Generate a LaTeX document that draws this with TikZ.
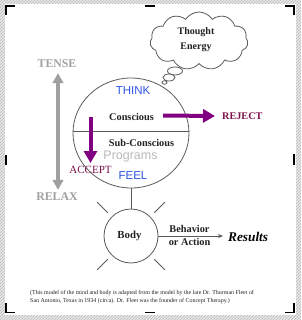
\documentclass[tikz,border=0pt]{standalone}
\usepackage{fontspec}
\setmainfont{Liberation Serif}
\newfontfamily\arialfam{Liberation Sans}
\usetikzlibrary{shapes.geometric,shapes.symbols,arrows.meta,patterns,calc}
\definecolor{purp}{HTML}{800080}
\definecolor{plum}{HTML}{7A1048}
\definecolor{thinkblue}{HTML}{2F55E8}
\definecolor{tensegray}{HTML}{A0A0A0}
\definecolor{linegray}{HTML}{5A5A5A}
\definecolor{textdark}{HTML}{222222}
\begin{document}
\begin{tikzpicture}[x=1pt,y=-1pt,
  cornermark/.style={line width=1.5pt,black},
  outline/.style={draw=linegray,line width=0.8pt},
  boldlbl/.style={font=\fontsize{10.3}{12}\selectfont\bfseries,text=textdark,inner sep=0pt},
  sanslbl/.style={font=\arialfam\fontsize{11.5}{13}\selectfont,text=thinkblue,inner sep=0pt},
  graylbl/.style={font=\fontsize{11.8}{13}\selectfont\bfseries,text=tensegray,inner sep=0pt},
  purparrow/.style={purp,line width=4pt,-{Triangle[length=12pt,width=13pt]}},
  captionlbl/.style={font=\fontsize{5.95}{7}\selectfont,text=textdark,inner sep=0pt,anchor=west}]
% background frame
\fill[gray!18] (0,0) rectangle (301,320);
\fill[pattern=north east lines,pattern color=gray!55] (0,0) rectangle (301,320);
\fill[white] (4.5,4.5) rectangle (295.5,314.5);
\useasboundingbox (0,0) rectangle (301,320);
% crop marks
\draw[cornermark] (6,15) -- (6,6) -- (15,6);
\draw[cornermark] (285,6) -- (294,6) -- (294,15);
\draw[cornermark] (6,303) -- (6,312.5) -- (15,312.5);
\draw[cornermark] (285,312.5) -- (294,312.5) -- (294,303);
\draw[cornermark] (145,6) -- (155,6);
\draw[cornermark] (145,312.5) -- (155,312.5);
\draw[cornermark] (6,155) -- (6,165);
\draw[cornermark] (294,154) -- (294,165);
% thought cloud
\node[cloud,cloud puffs=11,cloud puff arc=115,aspect=1.75,outline,
      minimum width=98pt,minimum height=58pt,inner sep=0pt] (cloud) at (199,41) {};
\node[boldlbl,text=textdark,align=center,font=\fontsize{10}{15}\selectfont\bfseries] (thought) at (196,40) {Thought\\Energy};
\node[ellipse,outline,minimum width=15pt,minimum height=8pt,inner sep=0pt] (b1) at (175,71) {};
\node[ellipse,outline,minimum width=12pt,minimum height=7pt,inner sep=0pt] (b2) at (169,77.5) {};
\node[ellipse,outline,minimum width=5pt,minimum height=3.5pt,inner sep=0pt] (b3) at (164.5,82.5) {};
% mind ellipse
\node[ellipse,outline,minimum width=116pt,minimum height=110pt,inner sep=0pt] (mind) at (131,133) {};
\begin{scope}
\clip (131,133) ellipse [x radius=58pt,y radius=55pt];
\draw[draw=linegray,line width=0.8pt] (70,131) -- (192,131);
\end{scope}
\node[sanslbl] (think) at (133,91) {THINK};
\node[boldlbl] (conscious) at (131.5,116.5) {Conscious};
\node[boldlbl] (subconscious) at (141.5,143) {Sub-Conscious};
\node[font=\arialfam\fontsize{12.5}{14}\selectfont,text=gray!55,inner sep=0pt] (programs) at (130.5,156.5) {Programs};
\node[sanslbl] (feel) at (133,176) {FEEL};
\node[font=\fontsize{11}{12}\selectfont,text=plum,inner sep=0pt] (accept) at (90.5,170) {ACCEPT};
\node[font=\fontsize{10.2}{12}\selectfont\bfseries,text=plum,inner sep=0pt,anchor=west] (reject) at (222,116) {REJECT};
% purple arrows
\coordinate (downstart) at (90.5,117);
\coordinate (downend) at (90.5,163);
\draw[purparrow] (downstart) -- (downend);
\draw[purparrow] ($(conscious.east)+(9,-1)$) -- ($(reject.west)+(-7,0)$);
% tense / relax
\node[graylbl] (tense) at (57,64) {TENSE};
\node[graylbl] (relax) at (57,197) {RELAX};
\draw[tensegray,line width=3.6pt,{Triangle[length=10pt,width=10.5pt]}-{Triangle[length=10pt,width=10.5pt]}]
  ($(tense.south)+(1,5)$) -- ($(relax.north)+(1,-3)$);
% body
\node[circle,outline,minimum size=54pt,inner sep=0pt] (body) at (131,236) {};
\node[boldlbl,font=\fontsize{10.8}{12}\selectfont\bfseries] (bodytxt) at (129.5,235.5) {Body};
\draw[outline] (mind.south) -- (body.north);
\foreach \a in {45,135,225,315}
  \draw[outline] ($(body.center)+(\a:33)$) -- ($(body.center)+(\a:48)$);
\node[boldlbl,align=center,font=\fontsize{10.3}{13.5}\selectfont\bfseries] (behavior) at (189.5,235.5) {Behavior\\or Action};
\node[font=\fontsize{13.3}{15}\selectfont\bfseries\itshape,text=black,inner sep=0pt,anchor=west] (results) at (228,237) {Results};
\draw[draw=linegray,line width=0.8pt,-{Stealth[length=5pt,width=4pt]},shorten >=5pt] (body.east) -- (results.west |- body.east);
% caption
\node[captionlbl] (cap1) at (30,293) {(This model of the mind and body is adapted from the model by the late Dr. Thurman Fleet of};
\node[captionlbl] (cap2) at (30,301.5) {San Antonio, Texas in 1934 (circa). Dr. Fleet was the founder of Concept Therapy.)};
\end{tikzpicture}
\end{document}
